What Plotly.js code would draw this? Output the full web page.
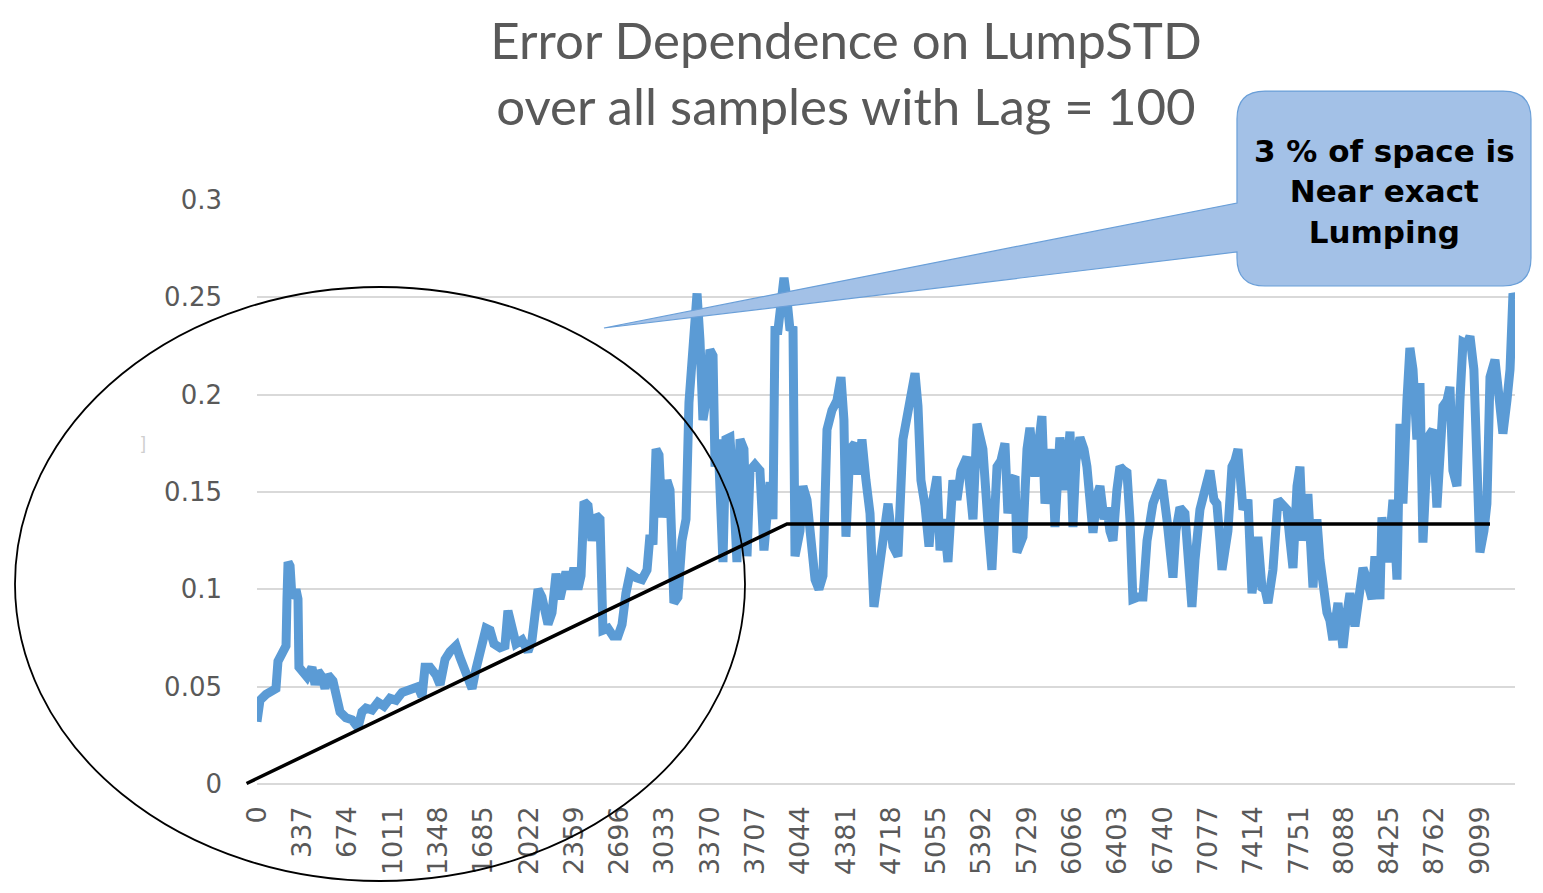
<!DOCTYPE html>
<html>
<head>
<meta charset="utf-8">
<script src="https://cdn.plot.ly/plotly-3.0.1.min.js"></script>
<style>html,body{margin:0;padding:0;background:#fff;}#chart{width:1543px;height:893px;}</style>
</head>
<body>
<div id="chart"></div>
<script>
// ---- data (sample index, error value) ----
const sampleIdx = [0,22,67,112,141,156,193,216,223,231,246,260,275,290,305,312,342,372,409,432,454,484,506,528,565,588,618,662,707,751,781,811,856,900,945,990,1034,1079,1138,1198,1228,1250,1287,1332,1362,1399,1436,1481,1510,1555,1600,1629,1667,1704,1734,1763,1808,1845,1867,1897,1927,1972,2016,2046,2068,2091,2120,2165,2195,2225,2254,2299,2329,2358,2388,2411,2433,2463,2492,2522,2552,2574,2611,2649,2686,2716,2745,2775,2820,2864,2902,2924,2946,2969,2991,3013,3050,3073,3102,3132,3162,3192,3214,3244,3274,3296,3318,3348,3370,3393,3408,3430,3467,3489,3519,3549,3571,3594,3623,3646,3668,3705,3742,3772,3817,3839,3854,3876,3899,3921,3943,3966,3988,4003,4040,4062,4092,4122,4152,4181,4211,4241,4278,4315,4345,4367,4382,4412,4449,4471,4501,4531,4561,4590,4628,4665,4695,4732,4769,4806,4843,4873,4896,4918,4940,4970,5000,5029,5059,5082,5111,5141,5178,5208,5238,5282,5312,5327,5357,5379,5401,5439,5468,5506,5535,5565,5587,5617,5640,5654,5677,5699,5729,5751,5788,5811,5840,5863,5892,5915,5937,5974,6012,6049,6071,6093,6123,6153,6175,6198,6220,6250,6272,6302,6324,6346,6369,6398,6421,6450,6473,6495,6517,6555,6592,6622,6644,6666,6703,6733,6770,6793,6815,6837,6867,6904,6927,6956,6979,6994,7016,7038,7068,7090,7120,7142,7165,7180,7202,7224,7254,7276,7299,7321,7336,7373,7388,7403,7433,7447,7477,7500,7522,7559,7596,7634,7663,7686,7708,7738,7760,7782,7805,7819,7857,7886,7909,7931,7961,7983,8005,8043,8080,8102,8132,8169,8191,8229,8258,8296,8318,8355,8370,8392,8415,8452,8482,8504,8526,8556,8578,8601,8630,8653,8675,8712,8750,8779,8802,8824,8854,8876,8898,8928,8950,8973,9002,9025,9054,9077,9099,9129,9151,9174,9211,9244,9270,9300,9323,9345,9359];
const lumpErr = [0.032,0.043,0.046,0.048,0.049,0.063,0.069,0.071,0.095,0.114,0.112,0.096,0.097,0.100,0.095,0.060,0.058,0.055,0.060,0.051,0.058,0.055,0.049,0.056,0.053,0.043,0.037,0.034,0.033,0.029,0.037,0.039,0.038,0.042,0.040,0.044,0.043,0.047,0.048,0.050,0.045,0.060,0.060,0.056,0.051,0.064,0.068,0.071,0.065,0.056,0.049,0.059,0.069,0.080,0.079,0.072,0.070,0.071,0.089,0.082,0.072,0.074,0.068,0.074,0.086,0.100,0.096,0.082,0.088,0.108,0.095,0.109,0.100,0.111,0.100,0.107,0.145,0.143,0.125,0.138,0.136,0.079,0.080,0.076,0.076,0.082,0.098,0.108,0.106,0.105,0.110,0.128,0.123,0.172,0.169,0.137,0.156,0.151,0.093,0.096,0.125,0.136,0.196,0.219,0.252,0.228,0.187,0.200,0.223,0.220,0.163,0.177,0.114,0.177,0.178,0.146,0.114,0.177,0.172,0.117,0.161,0.164,0.161,0.120,0.155,0.136,0.233,0.233,0.249,0.260,0.249,0.233,0.235,0.117,0.130,0.153,0.146,0.130,0.105,0.100,0.107,0.182,0.192,0.197,0.209,0.187,0.127,0.172,0.175,0.159,0.177,0.156,0.139,0.091,0.111,0.130,0.144,0.122,0.117,0.177,0.194,0.205,0.211,0.194,0.156,0.143,0.122,0.146,0.158,0.120,0.136,0.114,0.156,0.146,0.161,0.168,0.151,0.136,0.185,0.177,0.172,0.134,0.110,0.163,0.166,0.175,0.139,0.156,0.158,0.119,0.123,0.127,0.172,0.183,0.158,0.177,0.189,0.144,0.166,0.172,0.132,0.178,0.151,0.181,0.132,0.166,0.178,0.172,0.163,0.146,0.129,0.148,0.153,0.136,0.142,0.130,0.125,0.151,0.163,0.161,0.160,0.136,0.095,0.096,0.096,0.125,0.136,0.144,0.151,0.156,0.136,0.123,0.106,0.130,0.142,0.139,0.115,0.091,0.115,0.127,0.141,0.147,0.156,0.161,0.146,0.144,0.125,0.110,0.120,0.130,0.163,0.166,0.172,0.151,0.141,0.146,0.125,0.098,0.115,0.127,0.101,0.100,0.093,0.110,0.146,0.143,0.141,0.125,0.111,0.153,0.163,0.125,0.141,0.149,0.101,0.136,0.115,0.103,0.088,0.084,0.074,0.093,0.070,0.084,0.098,0.081,0.095,0.111,0.105,0.095,0.117,0.095,0.137,0.125,0.114,0.146,0.105,0.185,0.144,0.197,0.224,0.213,0.177,0.206,0.124,0.178,0.182,0.142,0.172,0.194,0.197,0.204,0.161,0.153,0.197,0.227,0.226,0.230,0.213,0.175,0.119,0.130,0.144,0.209,0.218,0.197,0.180,0.197,0.213,0.252,0.249];
const xTickVals = [0,337,674,1011,1348,1685,2022,2359,2696,3033,3370,3707,4044,4381,4718,5055,5392,5729,6066,6403,6740,7077,7414,7751,8088,8425,8762,9099];
const yTickVals = [0,0.05,0.1,0.15,0.2,0.25,0.3];
const yTickText = ['0','0.05','0.1','0.15','0.2','0.25','0.3'];
const titleLines = ['Error Dependence on LumpSTD','over all samples with Lag = 100'];
const calloutLines = ['3 % of space is','Near exact','Lumping'];

// ---- layout geometry (pixels of the 1543x893 page) ----
const W = 1543, H = 893;
const PL = 257, PR = 1515, PT = 200, PB = 784;
const fx = x => (x - PL) / (PR - PL);
const fy = y => (PB - y) / (PB - PT);
const f4 = v => v.toFixed(4);
const P = (x, y) => f4(fx(x)) + ',' + f4(fy(y));

// callout bubble (box + pointer) as a single outline
const bx0 = 1237, bx1 = 1531, by0 = 91, by1 = 286, r = 28;
const calloutPath =
  'M' + P(bx0 + r, by0) +
  ' L' + P(bx1 - r, by0) +
  ' Q' + P(bx1, by0) + ' ' + P(bx1, by0 + r) +
  ' L' + P(bx1, by1 - r) +
  ' Q' + P(bx1, by1) + ' ' + P(bx1 - r, by1) +
  ' L' + P(bx0 + r, by1) +
  ' Q' + P(bx0, by1) + ' ' + P(bx0, by1 - r) +
  ' L' + P(bx0, 252) +
  ' L' + P(604, 328) +
  ' L' + P(bx0, 203) +
  ' L' + P(bx0, by0 + r) +
  ' Q' + P(bx0, by0) + ' ' + P(bx0 + r, by0) + ' Z';

const trendPath = 'M' + P(246.5, 783.5) + ' L' + P(787, 524) + ' L' + P(1490, 524);

const trace = {
  x: sampleIdx, y: lumpErr, type: 'scatter', mode: 'lines',
  line: {color: '#5b9bd5', width: 9},
  hoverinfo: 'skip'
};

const layout = {
  width: W, height: H,
  margin: {l: PL, r: W - PR, t: PT, b: H - PB, pad: 0},
  paper_bgcolor: '#ffffff', plot_bgcolor: '#ffffff',
  showlegend: false,
  title: {
    text: titleLines.join('<br>'),
    font: {family: 'Lato', size: 51, color: '#595959'},
    xref: 'container', x: 846 / W, xanchor: 'center',
    yref: 'container', y: 1 - 59 / H, yanchor: 'top'
  },
  xaxis: {
    range: [0, 9360], tickmode: 'array', tickvals: xTickVals,
    ticktext: xTickVals.map(String), tickangle: -90,
    tickfont: {family: 'DejaVu Sans', size: 27, color: '#595959'},
    showgrid: false, zeroline: false, showline: false, ticks: '',
    ticklabelstandoff: 16, fixedrange: true
  },
  yaxis: {
    range: [0, 0.3], tickmode: 'array', tickvals: yTickVals, ticktext: yTickText,
    tickfont: {family: 'DejaVu Sans', size: 26, color: '#595959'},
    showgrid: true, gridcolor: '#d9d9d9', gridwidth: 2,
    zeroline: true, zerolinecolor: '#d9d9d9', zerolinewidth: 2,
    showline: false, ticks: '', ticklabelstandoff: 34, fixedrange: true
  },
  shapes: [
    {type: 'path', xref: 'paper', yref: 'paper', path: trendPath,
     line: {color: '#000000', width: 3.5}, layer: 'above'},
    {type: 'circle', xref: 'paper', yref: 'paper',
     x0: fx(15), x1: fx(745), y0: fy(881), y1: fy(287),
     line: {color: '#000000', width: 1.8}, layer: 'above'},
    {type: 'path', xref: 'paper', yref: 'paper', path: calloutPath,
     fillcolor: '#a3c1e7', line: {color: '#6a9fd8', width: 1.2}, layer: 'above'}
  ],
  annotations: [
    {xref: 'paper', yref: 'paper', x: fx(1384), y: fy(191), xanchor: 'center', yanchor: 'middle',
     text: calloutLines.join('<br>'), showarrow: false,
     font: {family: 'DejaVu Sans', size: 31, color: '#000000', weight: 'bold'}},
    {xref: 'paper', yref: 'paper', x: fx(143), y: fy(443), xanchor: 'center', yanchor: 'middle',
     text: ']', showarrow: false,
     font: {family: 'Liberation Sans', size: 18, color: '#cfcfcf'}}
  ]
};

Plotly.newPlot('chart', [trace], layout, {displayModeBar: false, staticPlot: true});
</script>
</body>
</html>
